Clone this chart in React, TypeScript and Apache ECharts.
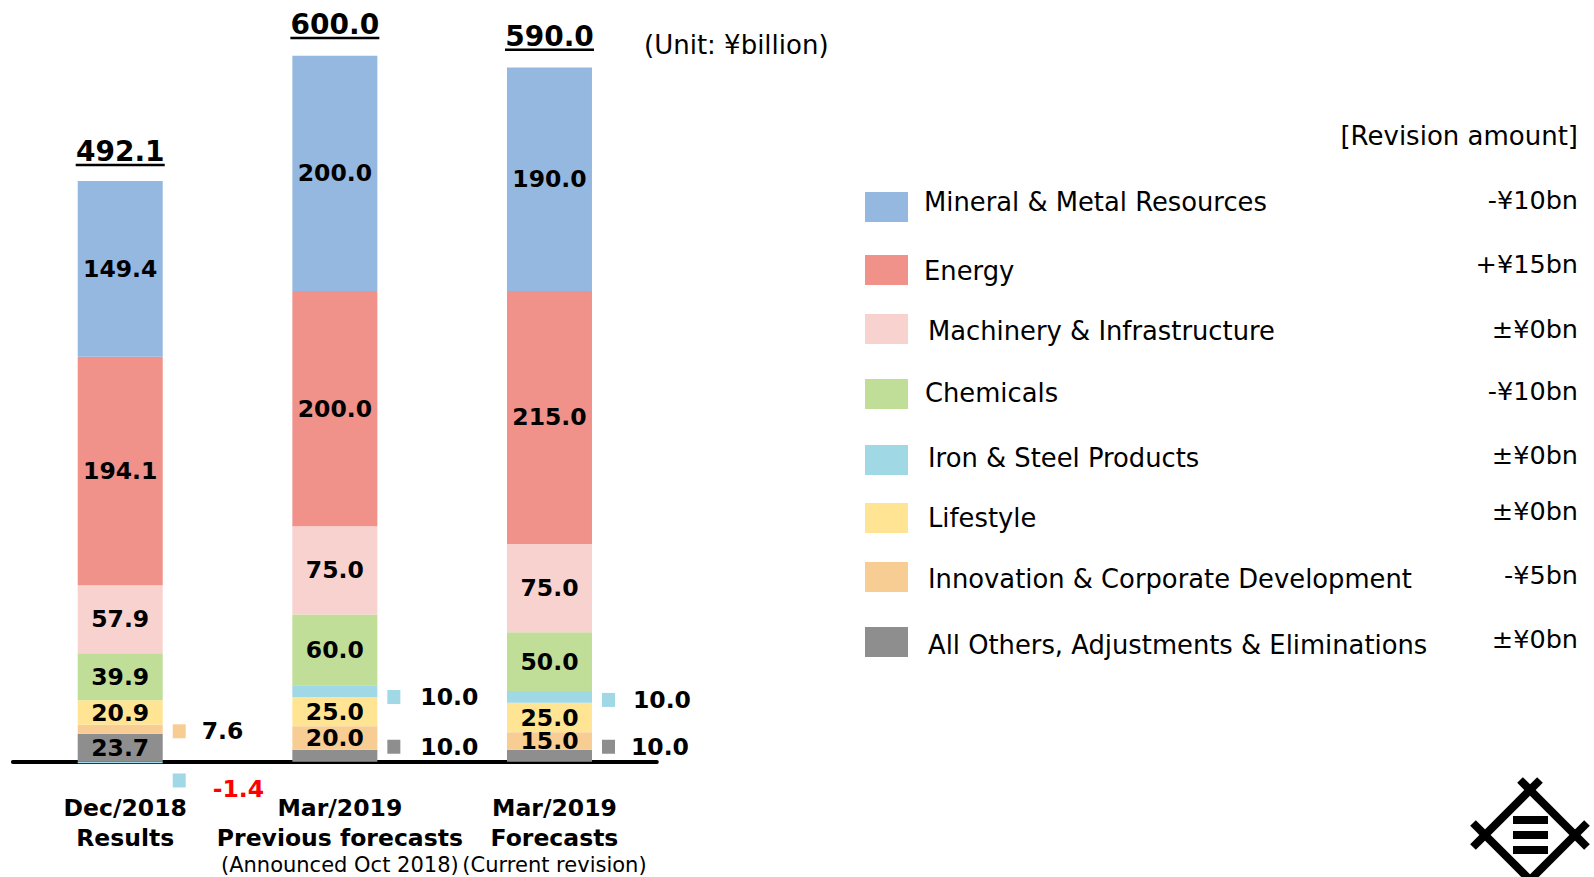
import React, { useEffect, useRef } from "react";
import * as echarts from "echarts";

// ---------- data ----------
const categories = [
  "Dec/2018\nResults",
  "Mar/2019\nPrevious forecasts\n(Announced Oct 2018)",
  "Mar/2019\nForecasts\n(Current revision)",
];
const othersValues = [23.7, 10.0, 10.0];
const innovationValues = [7.6, 20.0, 15.0];
const lifestyleValues = [20.9, 25.0, 25.0];
const ironSteelValues = [-1.4, 10.0, 10.0];
const chemicalsValues = [39.9, 60.0, 50.0];
const machineryValues = [57.9, 75.0, 75.0];
const energyValues = [194.1, 200.0, 215.0];
const mineralValues = [149.4, 200.0, 190.0];
const totals = [492.1, 600.0, 590.0];

const segmentNames = [
  "Mineral & Metal Resources",
  "Energy",
  "Machinery & Infrastructure",
  "Chemicals",
  "Iron & Steel Products",
  "Lifestyle",
  "Innovation & Corporate Development",
  "All Others, Adjustments & Eliminations",
];
const revisionAmounts = ["-¥10bn", "+¥15bn", "±¥0bn", "-¥10bn", "±¥0bn", "±¥0bn", "-¥5bn", "±¥0bn"];
const unitText = "(Unit: ¥billion)";
const revisionHeader = "[Revision amount]";

// ---------- styles ----------
const FONT = '"DejaVu Sans", Verdana, sans-serif';
const colors: Record<string, string> = {
  "Mineral & Metal Resources": "#95B8E0",
  Energy: "#F0918A",
  "Machinery & Infrastructure": "#F8D2CE",
  Chemicals: "#C0DE98",
  "Iron & Steel Products": "#A0D8E6",
  Lifestyle: "#FFE593",
  "Innovation & Corporate Development": "#F8CD94",
  "All Others, Adjustments & Eliminations": "#8E8E8E",
};
// stacking order bottom -> top
const stackSeries: [string, number[]][] = [
  ["All Others, Adjustments & Eliminations", othersValues],
  ["Innovation & Corporate Development", innovationValues],
  ["Lifestyle", lifestyleValues],
  ["Iron & Steel Products", ironSteelValues],
  ["Chemicals", chemicalsValues],
  ["Machinery & Infrastructure", machineryValues],
  ["Energy", energyValues],
  ["Mineral & Metal Resources", mineralValues],
];
// labels drawn beside the bar (layout only)
const outsideLabels: { name: string; idx: number; dy: number; gap: number; color: string; sqTop?: boolean }[] = [
  { name: "Innovation & Corporate Development", idx: 0, dy: 2, gap: 16, color: "#000" },
  { name: "Iron & Steel Products", idx: 0, dy: 27, gap: 27, color: "#FF0000", sqTop: true },
  { name: "Iron & Steel Products", idx: 1, dy: 6, gap: 20, color: "#000" },
  { name: "All Others, Adjustments & Eliminations", idx: 1, dy: -9, gap: 20, color: "#000" },
  { name: "Iron & Steel Products", idx: 2, dy: 3, gap: 18, color: "#000" },
  { name: "All Others, Adjustments & Eliminations", idx: 2, dy: -9, gap: 16, color: "#000" },
];
const legendLayout = [
  { rectY: 192, textY: 202, revY: 200, textX: 924 },
  { rectY: 255, textY: 271, revY: 264, textX: 924 },
  { rectY: 314, textY: 331, revY: 329, textX: 928 },
  { rectY: 379, textY: 393, revY: 391, textX: 925 },
  { rectY: 445, textY: 458, revY: 455, textX: 928 },
  { rectY: 503, textY: 518, revY: 511, textX: 928 },
  { rectY: 562, textY: 579, revY: 575, textX: 928 },
  { rectY: 627, textY: 645, revY: 639, textX: 928 },
];

function buildOption(): any {
  const series: any[] = stackSeries.map(([name, values]) => ({
    name,
    type: "bar",
    stack: "total",
    barWidth: 85,
    itemStyle: { color: colors[name] },
    label: {
      show: true,
      position: "inside",
      fontFamily: FONT,
      fontSize: 23.5,
      fontWeight: "bold",
      color: "#000",
      formatter: (p: any) => Number(p.value).toFixed(1),
    },
    data: values.map((v, i) => {
      const o = outsideLabels.find((l) => l.name === name && l.idx === i);
      if (!o) return v;
      return {
        value: v,
        label: {
          show: true,
          position: "right",
          distance: 10,
          offset: [0, o.dy],
          formatter: `{sq|}{v|${v.toFixed(1)}}`,
          rich: {
            sq: {
              width: 13,
              height: 14,
              backgroundColor: colors[name],
              verticalAlign: o.sqTop ? "top" : "middle",
            },
            v: {
              padding: [0, 0, 0, o.gap],
              fontFamily: FONT,
              fontSize: 23.5,
              fontWeight: "bold",
              color: o.color,
              lineHeight: 32,
            },
          },
        },
      };
    }),
  }));

  series.push({
    type: "custom",
    name: "total",
    z: 10,
    data: totals.map((t, i) => [i, t]),
    renderItem: (_params: any, api: any) => {
      const p = api.coord([api.value(0), api.value(1)]);
      const txt = Number(api.value(1)).toFixed(1);
      const cx = p[0];
      return {
        type: "group",
        children: [
          {
            type: "text",
            x: cx,
            y: p[1] - 31,
            style: {
              text: txt,
              fontFamily: FONT,
              fontSize: 28,
              fontWeight: "bold",
              fill: "#000",
              align: "center",
              verticalAlign: "middle",
            },
          },
          {
            type: "rect",
            shape: { x: cx - 44.5, y: p[1] - 19, width: 89, height: 2.5 },
            style: { fill: "#000" },
          },
        ],
      };
    },
  });

  const graphic: any[] = [
    {
      type: "text",
      left: 644,
      top: 32,
      style: { text: unitText, fontFamily: FONT, fontSize: 26, fill: "#000" },
    },
    {
      type: "text",
      x: 1578,
      y: 136,
      style: { text: revisionHeader, fontFamily: FONT, fontSize: 26, fill: "#000", align: "right", verticalAlign: "middle" },
    },
  ];
  segmentNames.forEach((name, i) => {
    const l = legendLayout[i];
    graphic.push({
      type: "rect",
      shape: { x: 865, y: l.rectY, width: 43, height: 30 },
      style: { fill: colors[name] },
    });
    graphic.push({
      type: "text",
      x: l.textX,
      y: l.textY,
      style: { text: name, fontFamily: FONT, fontSize: 25.8, fill: "#000", align: "left", verticalAlign: "middle" },
    });
    graphic.push({
      type: "text",
      x: 1578,
      y: l.revY,
      style: { text: revisionAmounts[i], fontFamily: FONT, fontSize: 25.5, fill: "#000", align: "right", verticalAlign: "middle" },
    });
  });

  // logo
  const logoStroke = { stroke: "#000", lineWidth: 8 };
  const logoLines = [
    [1520, 780, 1587, 847],
    [1540, 780, 1473, 847],
    [1473, 823, 1532, 882],
    [1587, 823, 1528, 882],
  ];
  logoLines.forEach(([x1, y1, x2, y2]) =>
    graphic.push({ type: "line", shape: { x1, y1, x2, y2 }, style: logoStroke })
  );
  [816, 831, 846].forEach((y) =>
    graphic.push({ type: "rect", shape: { x: 1513, y, width: 35, height: 8 }, style: { fill: "#000" } })
  );

  return {
    animation: false,
    grid: { left: 12.9, right: 937.2, top: 55.7, bottom: 103.6, containLabel: false, outerBoundsMode: "none" },
    xAxis: {
      type: "category",
      data: categories,
      axisTick: { show: false },
      axisLine: { show: true, onZero: true, lineStyle: { color: "#000", width: 4 } },
      axisLabel: {
        margin: 20,
        interval: 0,
        formatter: (val: string) =>
          val
            .split("\n")
            .map((s) => (s.startsWith("(") ? `{s|${s}}` : `{b|${s}}`))
            .join("\n"),
        rich: {
          b: { fontFamily: FONT, fontSize: 23.5, fontWeight: "bold", color: "#000", lineHeight: 29.5, padding: [0, 0, 0, 10] },
          s: { fontFamily: FONT, fontSize: 21, color: "#000", lineHeight: 25, padding: [0, 0, 0, 10] },
        },
      },
    },
    yAxis: {
      type: "value",
      min: -10,
      max: 600,
      axisLine: { show: false },
      axisTick: { show: false },
      axisLabel: { show: false },
      splitLine: { show: false },
    },
    series,
    graphic,
  };
}

export default function App() {
  const ref = useRef<HTMLDivElement>(null);
  useEffect(() => {
    if (!ref.current) return;
    const chart = echarts.init(ref.current, undefined, { renderer: "svg" });
    chart.setOption(buildOption());
    return () => chart.dispose();
  }, []);
  return (
    <div
      ref={ref}
      style={{ position: "fixed", left: 0, top: 0, width: 1594, height: 877, background: "#fff" }}
    />
  );
}
